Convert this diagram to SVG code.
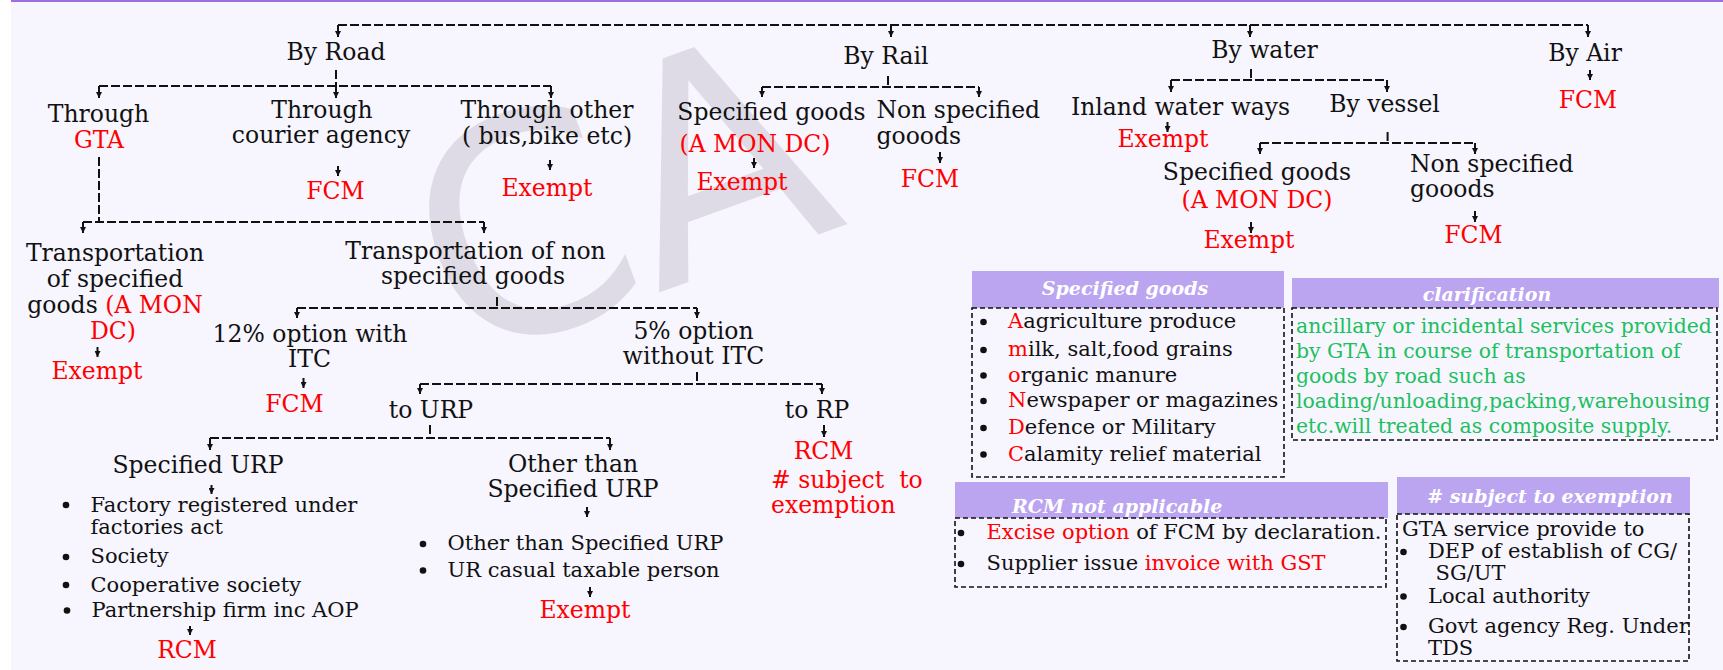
<svg xmlns="http://www.w3.org/2000/svg" width="1723" height="670" viewBox="0 0 1723 670">
<defs>
<style>
.t{font-family:"DejaVu Serif","Liberation Serif",serif;font-size:23.5px;fill:#111}
.m{text-anchor:middle}
.r{fill:#ff0000}
.s{font-size:21px}
.g{fill:#1cc060;font-size:20.4px}
.h{font-family:"DejaVu Serif","Liberation Serif",serif;font-weight:bold;font-style:italic;fill:#fff;font-size:19px}
.c{fill:none;stroke:#111;stroke-width:2;stroke-dasharray:9 3}
.a{fill:none;stroke:#111;stroke-width:2;marker-end:url(#ah)}
.box{fill:none;stroke:#111;stroke-width:1.6;stroke-dasharray:5 3}
.hd{fill:#bca5f0}
.wm{font-family:"DejaVu Sans",sans-serif;fill:#dedbe7}
</style>
<marker id="ah" viewBox="0 0 6 6" refX="6" refY="3" markerWidth="6" markerHeight="6" markerUnits="userSpaceOnUse" orient="auto"><path d="M0,0 L6,3 L0,6 z" fill="#111"/></marker>
</defs>
<rect x="0" y="0" width="1723" height="670" fill="#ffffff"/>
<rect x="11" y="0" width="1712" height="670" fill="#f7f5fe"/>
<rect x="11" y="0" width="1712" height="2" fill="#9b6fe0"/>
<g id="watermark">
<text class="wm" x="460" y="365" font-size="300" transform="rotate(-20 460 365)">CA</text>
</g>
<g id="connectors">
<path class="c" d="M338,25 H1588"/>
<path class="a" d="M338,25 V37"/><path class="a" d="M891,25 V37"/><path class="a" d="M1250,25 V37"/><path class="a" d="M1588,25 V37"/>
<path class="c" d="M336,70 V86 M99,86 H551"/>
<path class="a" d="M99,86 V98"/><path class="a" d="M336,86 V98"/><path class="a" d="M551,86 V98"/>
<path class="a" d="M338,166 V176"/>
<path class="a" d="M550,160 V170"/>
<path class="c" d="M99,157 V222 M83,222 H484"/>
<path class="a" d="M83,222 V233"/><path class="a" d="M484,222 V233"/>
<path class="a" d="M97.5,347 V357"/>
<path class="c" d="M497,297 V308 M297,308 H697"/>
<path class="a" d="M297,308 V318"/><path class="a" d="M697,308 V318"/>
<path class="a" d="M303.5,378 V388"/>
<path class="c" d="M697,372 V384 M420,384 H822"/>
<path class="a" d="M420,384 V394"/><path class="a" d="M822,384 V394"/>
<path class="a" d="M824,425 V437"/>
<path class="c" d="M430,425 V438 M210,438 H610"/>
<path class="a" d="M210,438 V450"/><path class="a" d="M610,438 V450"/>
<path class="a" d="M211.5,485 V494"/>
<path class="a" d="M190,626 V635"/>
<path class="a" d="M587,507 V517"/>
<path class="a" d="M590,587 V597"/>
<path class="c" d="M888,76 V87 M762,87 H979"/>
<path class="a" d="M762,87 V97"/><path class="a" d="M979,87 V97"/>
<path class="a" d="M754,158 V168"/>
<path class="a" d="M940,152 V163"/>
<path class="c" d="M1251,69 V80 M1171,80 H1387"/>
<path class="a" d="M1171,80 V92"/><path class="a" d="M1387,80 V92"/>
<path class="a" d="M1167.5,122 V132"/>
<path class="c" d="M1387.6,132 V143 M1260,143 H1475"/>
<path class="a" d="M1260,143 V154"/><path class="a" d="M1475,143 V154"/>
<path class="a" d="M1251,222 V233"/>
<path class="a" d="M1475,211 V222"/>
<path class="a" d="M1590,70 V80"/>
</g>
<g id="by-road"><text class="t m" x="336" y="60">By Road</text></g>
<g id="through-gta"><text class="t m" x="98.5" y="121.5">Through</text><text class="t m r" x="99" y="147.5">GTA</text></g>
<g id="through-courier"><text class="t m" x="322" y="118">Through</text><text class="t m" x="321" y="143">courier agency</text></g>
<g id="courier-fcm"><text class="t m r" x="335.5" y="199">FCM</text></g>
<g id="through-other"><text class="t m" x="547" y="118">Through other</text><text class="t m" x="547" y="144">( bus,bike etc)</text></g>
<g id="other-exempt"><text class="t m r" x="547" y="196">Exempt</text></g>
<g id="trans-specified"><text class="t m" x="115" y="260.5">Transportation</text><text class="t m" x="115" y="286.5">of specified</text><text class="t m" x="115" y="313">goods <tspan class="r">(A MON</tspan></text><text class="t m r" x="113" y="339">DC)</text></g>
<g id="trans-specified-exempt"><text class="t m r" x="97" y="379">Exempt</text></g>
<g id="trans-nonspecified"><text class="t m" x="475.5" y="259">Transportation of non</text><text class="t m" x="473" y="283.5">specified goods</text></g>
<g id="opt12"><text class="t m" x="310" y="341.5">12% option with</text><text class="t m" x="309.5" y="367">ITC</text></g>
<g id="opt12-fcm"><text class="t m r" x="294.5" y="411.5">FCM</text></g>
<g id="opt5"><text class="t m" x="693.5" y="338.5">5% option</text><text class="t m" x="693.5" y="363.5">without ITC</text></g>
<g id="to-urp"><text class="t m" x="431" y="418">to URP</text></g>
<g id="to-rp"><text class="t m" x="817" y="417.5">to RP</text></g>
<g id="rp-rcm"><text class="t m r" x="823.5" y="459">RCM</text><text class="t r" x="771" y="488" xml:space="preserve"># subject  to</text><text class="t r" x="771" y="513">exemption</text></g>
<g id="specified-urp"><text class="t m" x="198" y="473">Specified URP</text></g>
<g id="specified-urp-list">
<circle cx="66" cy="505" r="3.3" fill="#111"/><circle cx="66" cy="557" r="3.3" fill="#111"/><circle cx="66" cy="585" r="3.3" fill="#111"/><circle cx="67" cy="610.5" r="3.3" fill="#111"/>
<text class="t s" x="90.5" y="511.5">Factory registered under</text>
<text class="t s" x="90.5" y="534">factories act</text>
<text class="t s" x="90.5" y="563">Society</text>
<text class="t s" x="90.5" y="591.5">Cooperative society</text>
<text class="t s" x="91.5" y="616.5">Partnership firm inc AOP</text>
</g>
<g id="specified-urp-rcm"><text class="t m r" x="187" y="657.5">RCM</text></g>
<g id="other-urp"><text class="t m" x="573" y="471.5">Other than</text><text class="t m" x="573" y="497">Specified URP</text></g>
<g id="other-urp-list">
<circle cx="423" cy="544" r="3.3" fill="#111"/><circle cx="423" cy="570.5" r="3.3" fill="#111"/>
<text class="t s" x="447.5" y="550">Other than Specified URP</text>
<text class="t s" x="447.5" y="576.5">UR casual taxable person</text>
</g>
<g id="other-urp-exempt"><text class="t m r" x="585" y="618">Exempt</text></g>
<g id="by-rail"><text class="t m" x="886" y="64">By Rail</text></g>
<g id="rail-specified"><text class="t m" x="771.5" y="120">Specified goods</text><text class="t m r" x="755" y="151.5">(A MON DC)</text></g>
<g id="rail-specified-exempt"><text class="t m r" x="742" y="190">Exempt</text></g>
<g id="rail-nonspecified"><text class="t" x="876.5" y="118">Non specified</text><text class="t" x="876.5" y="144">gooods</text></g>
<g id="rail-fcm"><text class="t m r" x="930" y="186.5">FCM</text></g>
<g id="by-water"><text class="t m" x="1264.5" y="58">By water</text></g>
<g id="inland"><text class="t m" x="1180.5" y="115">Inland water ways</text></g>
<g id="inland-exempt"><text class="t m r" x="1163" y="146.5">Exempt</text></g>
<g id="by-vessel"><text class="t m" x="1384.5" y="111.5">By vessel</text></g>
<g id="vessel-specified"><text class="t m" x="1257" y="180">Specified goods</text><text class="t m r" x="1257" y="208">(A MON DC)</text></g>
<g id="vessel-specified-exempt"><text class="t m r" x="1249" y="248">Exempt</text></g>
<g id="vessel-nonspecified"><text class="t" x="1410" y="171.5">Non specified</text><text class="t" x="1410" y="197">gooods</text></g>
<g id="vessel-fcm"><text class="t m r" x="1473.5" y="243">FCM</text></g>
<g id="by-air"><text class="t m" x="1585" y="60.5">By Air</text></g>
<g id="air-fcm"><text class="t m r" x="1588" y="108">FCM</text></g>
<g id="box-specified-goods">
<rect class="hd" x="972" y="271" width="312" height="37"/>
<text class="h m" x="1125" y="295">Specified goods</text>
<rect class="box" x="972" y="308" width="312" height="169"/>
<circle cx="983.5" cy="322" r="3.3" fill="#111"/><circle cx="983.5" cy="350" r="3.3" fill="#111"/><circle cx="983.5" cy="375.5" r="3.3" fill="#111"/><circle cx="983.5" cy="401" r="3.3" fill="#111"/><circle cx="983.5" cy="428" r="3.3" fill="#111"/><circle cx="983.5" cy="454.5" r="3.3" fill="#111"/>
<text class="t s" x="1008" y="328"><tspan class="r">A</tspan>agriculture produce</text>
<text class="t s" x="1008" y="356"><tspan class="r">m</tspan>ilk, salt,food grains</text>
<text class="t s" x="1008" y="381.5"><tspan class="r">o</tspan>rganic manure</text>
<text class="t s" x="1008" y="407"><tspan class="r">N</tspan>ewspaper or magazines</text>
<text class="t s" x="1008" y="434"><tspan class="r">D</tspan>efence or Military</text>
<text class="t s" x="1008" y="460.5"><tspan class="r">C</tspan>alamity relief material</text>
</g>
<g id="box-clarification">
<rect class="hd" x="1292" y="278" width="427" height="30"/>
<text class="h m" x="1487" y="300.5">clarification</text>
<rect class="box" x="1292" y="308" width="425" height="132"/>
<text class="t g" x="1296" y="333">ancillary or incidental services provided</text>
<text class="t g" x="1296" y="358">by GTA in course of transportation of</text>
<text class="t g" x="1296" y="383">goods by road such as</text>
<text class="t g" x="1296" y="408">loading/unloading,packing,warehousing</text>
<text class="t g" x="1296" y="433">etc.will treated as composite supply.</text>
</g>
<g id="box-rcm-not-applicable">
<rect class="hd" x="955" y="482" width="433" height="36"/>
<text class="h" x="1012" y="513">RCM not applicable</text>
<rect class="box" x="955" y="518" width="431" height="69"/>
<circle cx="961" cy="533" r="3.3" fill="#111"/><circle cx="961" cy="564" r="3.3" fill="#111"/>
<text class="t s" x="986.5" y="539"><tspan class="r">Excise option</tspan> of FCM by declaration.</text>
<text class="t s" x="986.5" y="570">Supplier issue <tspan class="r">invoice with GST</tspan></text>
</g>
<g id="box-subject-exemption">
<rect class="hd" x="1397" y="477" width="293" height="37"/>
<text class="h m" x="1550" y="502.5"># subject to exemption</text>
<rect class="box" x="1397" y="514" width="292" height="147"/>
<text class="t s" x="1402" y="536">GTA service provide to</text>
<circle cx="1403.5" cy="552" r="3.3" fill="#111"/><circle cx="1403.5" cy="596.5" r="3.3" fill="#111"/><circle cx="1403.5" cy="627" r="3.3" fill="#111"/>
<text class="t s" x="1428" y="558">DEP of establish of CG/</text>
<text class="t s" x="1435.5" y="580">SG/UT</text>
<text class="t s" x="1428" y="602.5">Local authority</text>
<text class="t s" x="1428" y="633">Govt agency Reg. Under</text>
<text class="t s" x="1428" y="655">TDS</text>
</g>
</svg>
